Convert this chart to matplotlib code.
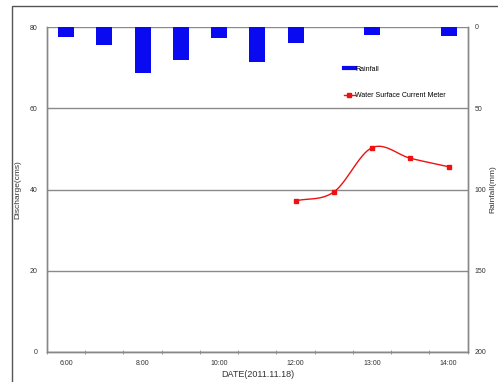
import numpy as np
import matplotlib
matplotlib.use('Agg')
import matplotlib.pyplot as plt
from matplotlib.patches import Rectangle
from matplotlib.lines import Line2D

plt.rcParams['font.family'] = ['Liberation Sans', 'DejaVu Sans']

# hourly / half-hourly time steps
times = ['6:00', '7:00', '8:00', '9:00', '10:00', '11:00',
         '12:00', '12:30', '13:00', '13:30', '14:00']
rainfall = [6, 11, 28.5, 20.5, 7, 21.5, 10, 0, 5, 0, 5.3]   # mm
flow_times = ['12:00', '12:30', '13:00', '13:30', '14:00']
discharge = [37.2, 39.4, 50.3, 47.7, 45.6]                 # cms
shown_labels = ['6:00', '8:00', '10:00', '12:00', '13:00', '14:00']


def smooth(x, y, n=30):
    # catmull-rom curve through the points, like a smoothed line
    x = np.asarray(x, float)
    y = np.asarray(y, float)
    px = np.concatenate([[2*x[0]-x[1]], x, [2*x[-1]-x[-2]]])
    py = np.concatenate([[2*y[0]-y[1]], y, [2*y[-1]-y[-2]]])
    xs, ys = [], []
    t = np.linspace(0, 1, n)
    for i in range(1, len(px)-2):
        for p, out in ((px, xs), (py, ys)):
            p0, p1, p2, p3 = p[i-1], p[i], p[i+1], p[i+2]
            out.extend(0.5*((2*p1) + (-p0+p2)*t + (2*p0-5*p1+4*p2-p3)*t**2
                            + (-p0+3*p1-3*p2+p3)*t**3))
    return np.array(xs), np.array(ys)


fig = plt.figure(figsize=(4.98, 3.82), dpi=100)
fig.patches.append(Rectangle((12/498, -0.1), 1.2, (382-6)/382+0.1,
                             transform=fig.transFigure, fill=False,
                             edgecolor='#555555', lw=1.0))
ax = fig.add_axes([47/498, 30/382, 420.7/498, 325/382])
ax2 = ax.twinx()

idx = np.arange(len(times))
xf = [times.index(t) for t in flow_times]

ax.set_ylim(0, 80)
ax.set_yticks([0, 20, 40, 60, 80])
ax.set_xlim(-0.5, len(times)-0.5)
ax.grid(axis='y', color='#8a8a8a', lw=1.0)
ax.set_axisbelow(True)

# smoothed discharge line plus square markers at the measured points
sx, sy = smooth(xf, discharge)
ax.plot(sx, sy, color='#ee1111', lw=1.0, zorder=3)
ax.plot(xf, discharge, ls='none', color='#ee1111', marker='s', ms=3.5,
        zorder=4)

ax2.bar(idx, rainfall, width=0.42, color='#0a0af0', lw=0, zorder=3)
ax2.set_ylim(200, 0)
ax2.set_yticks([0, 50, 100, 150, 200])

ax.set_xticks([times.index(t) for t in shown_labels])
ax.set_xticklabels(shown_labels)
ax.set_xticks(np.arange(len(times)+1) - 0.5, minor=True)
ax.tick_params(axis='x', which='major', length=0, pad=6, labelsize=5,
               labelcolor='#333333')
ax.tick_params(axis='x', which='minor', length=3, direction='inout',
               color='#888888')
ax.tick_params(axis='y', length=0, pad=7, labelsize=5, labelcolor='#333333')
ax2.tick_params(axis='y', length=0, pad=5, labelsize=5, labelcolor='#333333')

for a in (ax, ax2):
    for s in a.spines.values():
        s.set_color('#888888')
        s.set_linewidth(1.0)
    a.spines['top'].set_visible(False)

ax.set_ylabel('Discharge(cms)', fontsize=6, color='#333333', labelpad=6)
ax.set_xlabel('DATE(2011.11.18)', fontsize=6.5, color='#333333', labelpad=2)
ax2.set_ylabel('Rainfall(mm)', fontsize=6, color='#333333')
ax2.yaxis.set_label_coords(1.052, 0.5)

h_rain = Line2D([], [], color='#0a0af0', lw=3)
h_flow = Line2D([], [], color='#ee1111', lw=1.0, marker='s', ms=3)
ax2.legend([h_rain, h_flow], ['Rainfall', 'Water Surface Current Meter'],
           loc='upper left', bbox_to_anchor=(0.69, 0.90), frameon=False,
           fontsize=5, handlelength=1.6, handletextpad=0.1,
           labelspacing=2.8)

fig.savefig('out.png', dpi=100)
